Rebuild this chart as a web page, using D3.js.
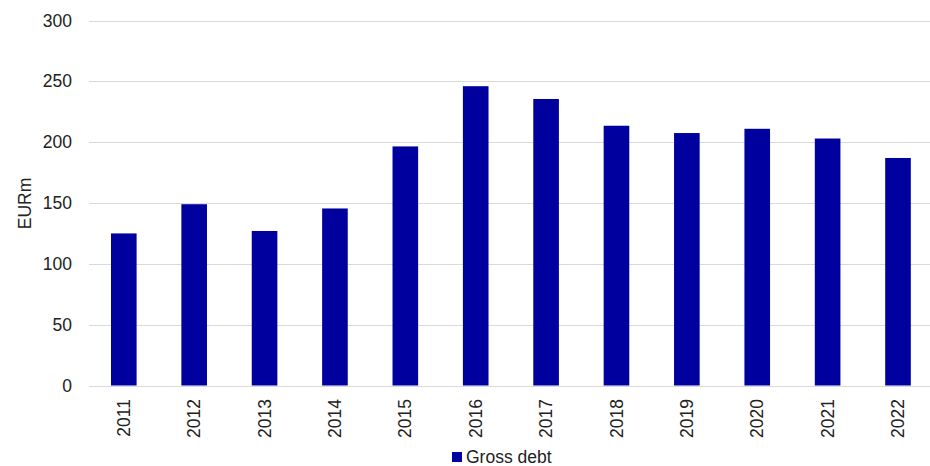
<!DOCTYPE html>
<html>
<head>
<meta charset="utf-8">
<script src="https://d3js.org/d3.v7.min.js"></script>
<style>
  body { margin: 0; background: #fff; }
  text { font-family: "Liberation Sans", Arial, sans-serif; fill: #222; }
</style>
</head>
<body>
<div class="canvas"></div>
<script>
const years = ["2011","2012","2013","2014","2015","2016","2017","2018","2019","2020","2021","2022"];
const grossDebt = [125, 149, 127, 145.5, 196.5, 246, 235.5, 213.5, 207.5, 211, 203, 187];
const yTicks = [0, 50, 100, 150, 200, 250, 300];
const seriesName = "Gross debt";

const w = 930;
const h = 466;
const margin = {top: 21, bottom: 80, left: 89, right: 0};

const barColor = "#00009f";

const svg = d3.select(".canvas")
  .append("svg")
  .attr("width", w)
  .attr("height", h);

// band range runs a little past the right edge, like the source
const x = d3.scaleBand()
  .domain(years)
  .range([88.6, 933.2])
  .paddingInner(0.636)
  .paddingOuter(0.318);

const y = d3.scaleLinear()
  .domain([0, 300])
  .range([h - margin.bottom - 0.5, margin.top - 0.5]);

// gridlines
svg.append("g")
  .selectAll("line")
  .data(yTicks)
  .enter().append("line")
  .attr("x1", margin.left)
  .attr("x2", w - margin.right)
  .attr("y1", d => Math.round(y(d)) + 0.5)
  .attr("y2", d => Math.round(y(d)) + 0.5)
  .attr("stroke", "#d9d9d9")
  .attr("stroke-width", 1);

// y axis labels
const yAxis = d3.axisLeft(y).tickValues(yTicks).tickSize(0).tickPadding(17);
svg.append("g")
  .attr("transform", "translate(" + margin.left + ",0)")
  .call(yAxis)
  .call(g => g.select(".domain").remove())
  .selectAll("text")
  .style("font-size", "17.5px")
  .attr("fill", "#222");

// bars
svg.append("g")
  .selectAll("rect")
  .data(grossDebt)
  .enter().append("rect")
  .attr("x", (d, i) => x(years[i]))
  .attr("y", d => y(d))
  .attr("width", x.bandwidth())
  .attr("height", d => y(0) - y(d))
  .attr("fill", barColor);

// x axis labels (rotated)
svg.append("g")
  .selectAll("text")
  .data(years)
  .enter().append("text")
  .attr("transform", d => "translate(" + (x(d) + x.bandwidth() / 2) + "," + (h - margin.bottom + 13) + ") rotate(-90)")
  .attr("dy", "0.35em")
  .style("text-anchor", "end")
  .style("font-size", "17.5px")
  .text(d => d);

// y axis title
svg.append("text")
  .attr("transform", "translate(31," + ((margin.top + h - margin.bottom) / 2) + ") rotate(-90)")
  .style("text-anchor", "middle")
  .style("font-size", "17.5px")
  .text("EURm");

// legend
const legend = svg.append("g")
  .attr("transform", "translate(452,452)");

legend.append("rect")
  .attr("width", 10)
  .attr("height", 10)
  .attr("fill", barColor);

legend.append("text")
  .attr("x", 14)
  .attr("y", 10.5)
  .style("font-size", "17.5px")
  .text(seriesName);
</script>
</body>
</html>
